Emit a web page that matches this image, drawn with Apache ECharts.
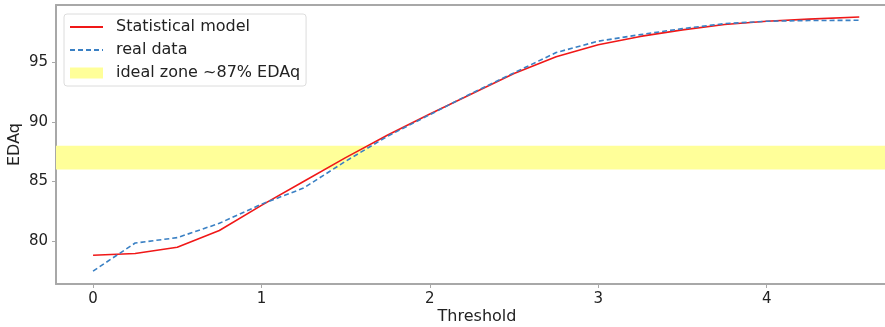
<!DOCTYPE html>
<html>
<head>
<meta charset="utf-8">
<script src="https://cdn.jsdelivr.net/npm/echarts@6/dist/echarts.min.js"></script>
<style>
  html, body { margin: 0; padding: 0; background: #fff; }
  #chart { width: 885px; height: 327px; }
</style>
</head>
<body>
<div id="chart"></div>
<script>
// threshold values (x) and EDAq readings
const thresholds = [0, 0.25, 0.5, 0.75, 1, 1.25, 1.5, 1.75, 2, 2.25, 2.5, 2.75, 3, 3.25, 3.5, 3.75, 4, 4.25, 4.55]
const modelValues = [78.83, 78.97, 79.5, 80.9, 83.0, 85.0, 87.0, 88.9, 90.65, 92.35, 94.05, 95.45, 96.45, 97.15, 97.7, 98.15, 98.42, 98.6, 98.78]
const realValues = [77.5, 79.85, 80.3, 81.5, 83.1, 84.45, 86.7, 88.8, 90.6, 92.4, 94.1, 95.8, 96.75, 97.3, 97.8, 98.22, 98.42, 98.48, 98.5]
const idealZone = [86, 88]
const xTicks = [0, 1, 2, 3, 4]
const yTicks = [80, 85, 90, 95]

const font = 'DejaVu Sans'
const textColor = '#222'
const spineColor = '#a8a8a8'

const chart = echarts.init(document.getElementById('chart'))

const pairs = (ys) => thresholds.map((x, i) => [x, ys[i]])

const option = {
  animation: false,
  grid: { left: 56, right: -13, top: 5, bottom: 43, show: false, outerBoundsMode: 'none', containLabel: false },
  legend: {
    left: 64,
    top: 14,
    orient: 'vertical',
    padding: [4, 6, 4, 5],
    itemGap: 5,
    itemWidth: 33,
    itemHeight: 11,
    borderColor: '#dcdcdc',
    borderWidth: 1,
    borderRadius: 3,
    backgroundColor: 'rgba(255,255,255,0.85)',
    textStyle: { fontFamily: font, fontSize: 16, color: textColor, lineHeight: 18, padding: [0, 0, 0, 8] },
    data: [
      { name: 'Statistical model', itemStyle: { opacity: 0 } },
      { name: 'real data', itemStyle: { opacity: 0 } },
      { name: 'ideal zone ~87% EDAq', icon: 'rect' },
    ],
  },
  xAxis: [
    {
      type: 'value',
      min: -0.22,
      max: 4.78,
      name: 'Threshold',
      nameLocation: 'middle',
      nameGap: 25,
      nameMoveOverlap: false,
      nameTextStyle: { fontFamily: font, fontSize: 16, color: textColor },
      splitLine: { show: false },
      axisLine: { onZero: false, lineStyle: { color: spineColor, width: 2 } },
      axisTick: { customValues: xTicks, length: 4, lineStyle: { color: spineColor, width: 1 } },
      axisLabel: { customValues: xTicks, margin: 8, fontFamily: font, fontSize: 15, color: textColor },
    },
    {
      type: 'value',
      position: 'top',
      min: -0.22,
      max: 4.78,
      splitLine: { show: false },
      axisLine: { onZero: false, lineStyle: { color: spineColor, width: 2 } },
      axisTick: { show: false },
      axisLabel: { show: false },
    },
  ],
  yAxis: {
    type: 'value',
    min: 76.42,
    max: 99.78,
    name: 'EDAq',
    nameLocation: 'middle',
    nameGap: 33,
    nameMoveOverlap: false,
    nameTextStyle: { fontFamily: font, fontSize: 16, color: textColor },
    splitLine: { show: false },
    axisLine: { show: true, onZero: false, lineStyle: { color: spineColor, width: 2 } },
    axisTick: { show: true, customValues: yTicks, length: 4, lineStyle: { color: spineColor, width: 1 } },
    axisLabel: { customValues: yTicks, margin: 8, fontFamily: font, fontSize: 15, color: textColor },
  },
  series: [
    {
      name: 'ideal zone ~87% EDAq',
      type: 'line',
      data: [],
      itemStyle: { color: '#ffff99' },
      lineStyle: { width: 0 },
      markArea: {
        silent: true,
        itemStyle: { color: '#ffff99' },
        data: [[{ yAxis: idealZone[0] }, { yAxis: idealZone[1] }]],
      },
      z: 1,
    },
    {
      name: 'Statistical model',
      type: 'line',
      data: pairs(modelValues),
      symbol: 'none',
      itemStyle: { color: '#f01818' },
      lineStyle: { color: '#f01818', width: 1.6 },
      z: 3,
    },
    {
      name: 'real data',
      type: 'line',
      data: pairs(realValues),
      symbol: 'none',
      itemStyle: { color: '#3a80c4' },
      lineStyle: { color: '#3a80c4', width: 1.6, type: [5, 3] },
      z: 4,
    },
  ],
}

chart.setOption(option)
</script>
</body>
</html>
